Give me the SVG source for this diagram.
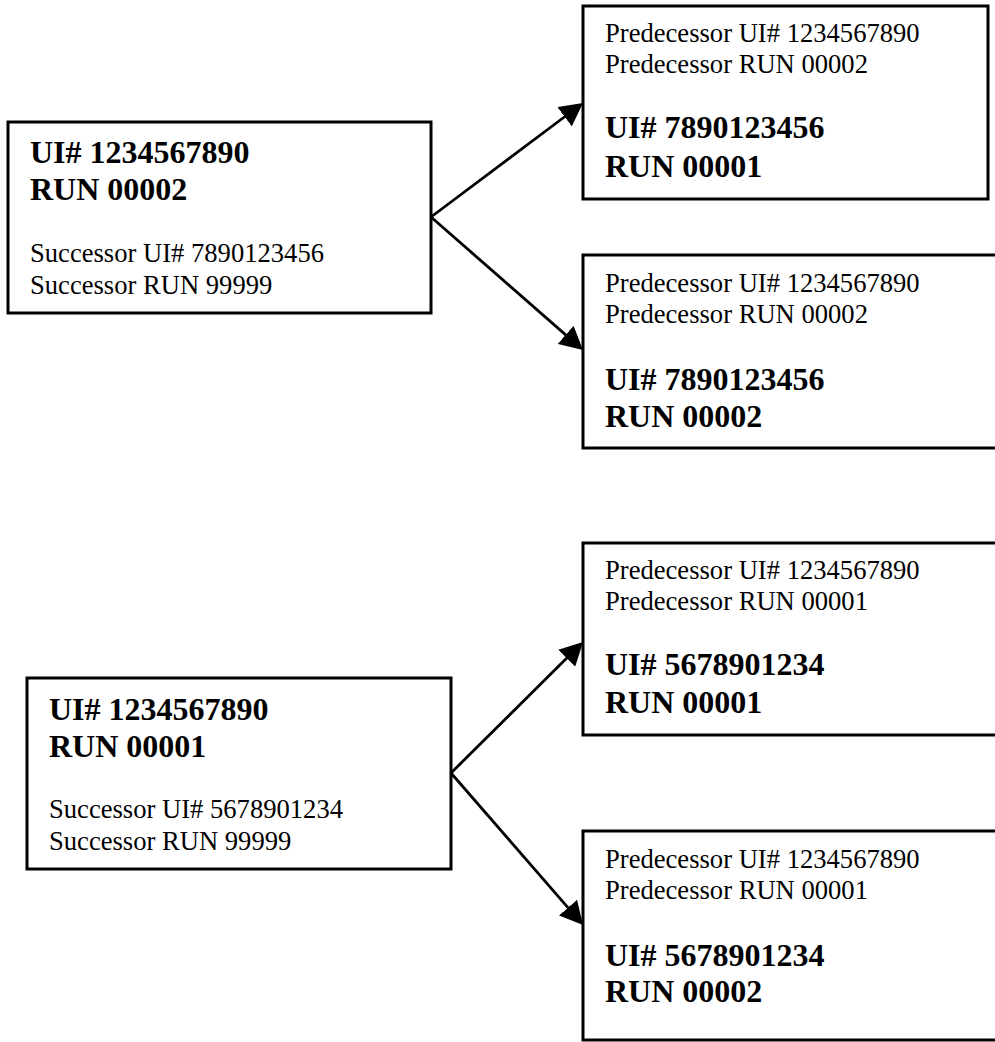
<svg xmlns="http://www.w3.org/2000/svg" width="995" height="1042" viewBox="0 0 995 1042">
<style>
.box{fill:#fff;stroke:#000;stroke-width:3}
.r{font-family:"Liberation Serif","Times New Roman",serif;font-size:26.6px;fill:#000}
.b{font-family:"Liberation Serif","Times New Roman",serif;font-size:32px;font-weight:bold;fill:#000}
.c{stroke:#000;stroke-width:2.8;fill:none;marker-end:url(#ah)}
</style>
<defs>
<marker id="ah" markerUnits="userSpaceOnUse" markerWidth="23" markerHeight="24" refX="8" refY="12" orient="auto" viewBox="0 0 23 24">
<path d="M0,0 L23,12 L0,24 z" fill="#000"/>
</marker>
</defs>
<rect width="995" height="1042" fill="#fff"/>
<g id="connectors">
<line class="c" x1="431" y1="217" x2="571" y2="112"/>
<line class="c" x1="431" y1="217" x2="571.7" y2="340.1"/>
<line class="c" x1="451" y1="773" x2="572.4" y2="652.6"/>
<line class="c" x1="451" y1="773" x2="573.2" y2="913.7"/>
</g>
<g id="nodeA">
<rect class="box" x="8" y="122" width="423" height="191"/>
<text class="b" x="30" y="163">UI# 1234567890</text>
<text class="b" x="30" y="200">RUN 00002</text>
<text class="r" x="30" y="262">Successor UI# 7890123456</text>
<text class="r" x="30" y="294">Successor RUN 99999</text>
</g>
<g id="nodeB">
<rect class="box" x="583" y="6" width="405" height="193"/>
<text class="r" x="605" y="42">Predecessor UI# 1234567890</text>
<text class="r" x="605" y="73">Predecessor RUN 00002</text>
<text class="b" x="605" y="138">UI# 7890123456</text>
<text class="b" x="605" y="177">RUN 00001</text>
</g>
<g id="nodeC">
<rect class="box" x="583" y="255" width="430" height="193"/>
<text class="r" x="605" y="292">Predecessor UI# 1234567890</text>
<text class="r" x="605" y="323">Predecessor RUN 00002</text>
<text class="b" x="605" y="390">UI# 7890123456</text>
<text class="b" x="605" y="427">RUN 00002</text>
</g>
<g id="nodeD">
<rect class="box" x="27" y="678" width="424" height="191"/>
<text class="b" x="49" y="720">UI# 1234567890</text>
<text class="b" x="49" y="757">RUN 00001</text>
<text class="r" x="49" y="818">Successor UI# 5678901234</text>
<text class="r" x="49" y="850">Successor RUN 99999</text>
</g>
<g id="nodeE">
<rect class="box" x="583" y="543" width="430" height="192"/>
<text class="r" x="605" y="579">Predecessor UI# 1234567890</text>
<text class="r" x="605" y="610">Predecessor RUN 00001</text>
<text class="b" x="605" y="675">UI# 5678901234</text>
<text class="b" x="605" y="713">RUN 00001</text>
</g>
<g id="nodeF">
<rect class="box" x="583" y="831" width="430" height="209"/>
<text class="r" x="605" y="868">Predecessor UI# 1234567890</text>
<text class="r" x="605" y="899">Predecessor RUN 00001</text>
<text class="b" x="605" y="966">UI# 5678901234</text>
<text class="b" x="605" y="1002">RUN 00002</text>
</g>
</svg>
